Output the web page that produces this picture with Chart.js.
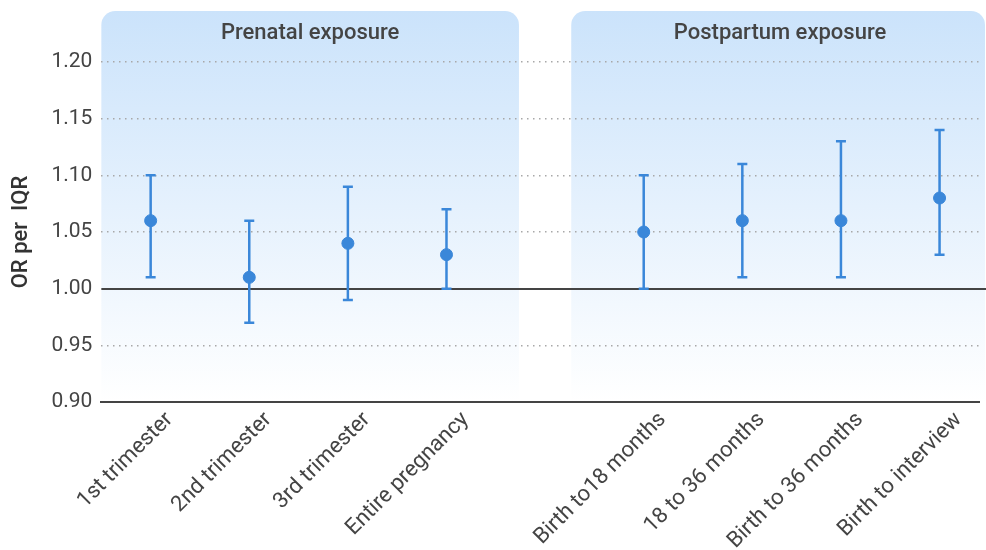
<!DOCTYPE html>
<html>
<head>
<meta charset="utf-8">
<script src="https://cdn.jsdelivr.net/npm/chart.js@4.4.1/dist/chart.umd.min.js"></script>
<style>
  html, body { margin: 0; padding: 0; background: #fff; overflow: hidden; }
  #wrap { width: 986px; height: 550px; }
</style>
</head>
<body>
<div id="wrap"><canvas id="oddsChart"></canvas></div>
<script>
// categories (index 4 is the gap between the two panels)
const categories = ['1st trimester', '2nd trimester', '3rd trimester', 'Entire pregnancy', '',
  'Birth to18 months', '18 to 36 months', 'Birth to 36 months', 'Birth to interview'];
const pointIndex = [0, 1, 2, 3, 5, 6, 7, 8];
const oddsRatio = [1.06, 1.01, 1.04, 1.03, 1.05, 1.06, 1.06, 1.08];
const lowerCI   = [1.01, 0.97, 0.99, 1.00, 1.00, 1.01, 1.01, 1.03];
const upperCI   = [1.10, 1.06, 1.09, 1.07, 1.10, 1.11, 1.13, 1.14];
const yTicks = [0.90, 0.95, 1.00, 1.05, 1.10, 1.15, 1.20];
const panelNames = ['Prenatal exposure', 'Postpartum exposure'];
const panelRanges = [[-0.5, 3.735], [4.265, 8.5]];

const blue = '#3a87d9';
const dark = '#444444';

// shaded panels behind the plot, plus the OR = 1 line and error bars
const panelsPlugin = {
  id: 'panels',
  beforeDraw(chart) {
    const { ctx, chartArea, scales: { x } } = chart;
    const top = 11;
    const bottom = chartArea.bottom;
    ctx.save();
    const grad = ctx.createLinearGradient(0, top, 0, bottom);
    grad.addColorStop(0, '#cbe3fb');
    grad.addColorStop(1, '#ffffff');
    panelRanges.forEach((r, i) => {
      const x0 = x.getPixelForValue(r[0]);
      const x1 = Math.min(x.getPixelForValue(r[1]), chart.width - 1);
      ctx.fillStyle = grad;
      ctx.beginPath();
      ctx.roundRect(x0, top, x1 - x0, bottom - top, [14, 14, 0, 0]);
      ctx.fill();
      const cx = (x.getPixelForValue(r[0]) + x.getPixelForValue(r[1])) / 2;
      ctx.fillStyle = dark;
      ctx.font = '500 22px Roboto';
      ctx.textAlign = 'center';
      ctx.textBaseline = 'middle';
      ctx.fillText(panelNames[i], cx, 33);
    });
    ctx.restore();
  },
  beforeDatasetsDraw(chart) {
    const { ctx, chartArea, scales: { x, y } } = chart;
    ctx.save();
    const y1 = Math.round(y.getPixelForValue(1));
    ctx.strokeStyle = dark;
    ctx.lineWidth = 2;
    ctx.beginPath();
    ctx.moveTo(chartArea.left, y1);
    ctx.lineTo(chart.width, y1);
    ctx.stroke();
    ctx.strokeStyle = blue;
    ctx.lineWidth = 2.5;
    pointIndex.forEach((xi, i) => {
      const px = x.getPixelForValue(xi);
      const lo = y.getPixelForValue(lowerCI[i]);
      const hi = y.getPixelForValue(upperCI[i]);
      ctx.beginPath();
      ctx.moveTo(px, lo); ctx.lineTo(px, hi);
      ctx.moveTo(px - 5, lo); ctx.lineTo(px + 5, lo);
      ctx.moveTo(px - 5, hi); ctx.lineTo(px + 5, hi);
      ctx.stroke();
    });
    ctx.restore();
  }
};

new Chart(document.getElementById('oddsChart'), {
  type: 'scatter',
  data: {
    datasets: [{
      label: 'OR',
      data: pointIndex.map((xi, i) => ({ x: xi, y: oddsRatio[i] })),
      backgroundColor: blue,
      borderColor: blue,
      pointRadius: 6,
      pointHoverRadius: 6
    }]
  },
  options: {
    responsive: true,
    maintainAspectRatio: false,
    animation: false,
    layout: { padding: { top: 62, left: 8, right: 0 } },
    plugins: { legend: { display: false }, tooltip: { enabled: false } },
    scales: {
      x: {
        type: 'linear',
        min: -0.5,
        max: 8.40,
        afterBuildTicks: axis => { axis.ticks = categories.map((c, i) => ({ value: i })); },
        afterFit: axis => { axis.height = 148; },
        grid: { display: false },
        border: { color: dark, width: 2 },
        ticks: {
          autoSkip: false,
          minRotation: 45,
          maxRotation: 45,
          labelOffset: 19,
          padding: -3,
          color: dark,
          font: { family: 'Roboto', size: 22 },
          callback: v => categories[v]
        }
      },
      y: {
        min: 0.9,
        max: 1.2,
        afterBuildTicks: axis => { axis.ticks = yTicks.map(v => ({ value: v })); },
        border: { display: false, dash: [1.5, 4.5] },
        grid: {
          drawTicks: false,
          color: c => Math.abs(c.tick.value - 1) < 1e-9 ? 'rgba(0,0,0,0)' : '#a8a8a8',
          lineWidth: 1.5
        },
        ticks: {
          padding: 9,
          color: dark,
          font: { family: 'Roboto', size: 21 },
          callback: v => v.toFixed(2)
        },
        title: {
          display: true,
          text: 'OR per  IQR',
          color: '#333',
          font: { family: 'Roboto', size: 22, weight: '500' },
          padding: { top: 0, bottom: 8 }
        }
      }
    }
  },
  plugins: [panelsPlugin]
});
</script>
</body>
</html>
